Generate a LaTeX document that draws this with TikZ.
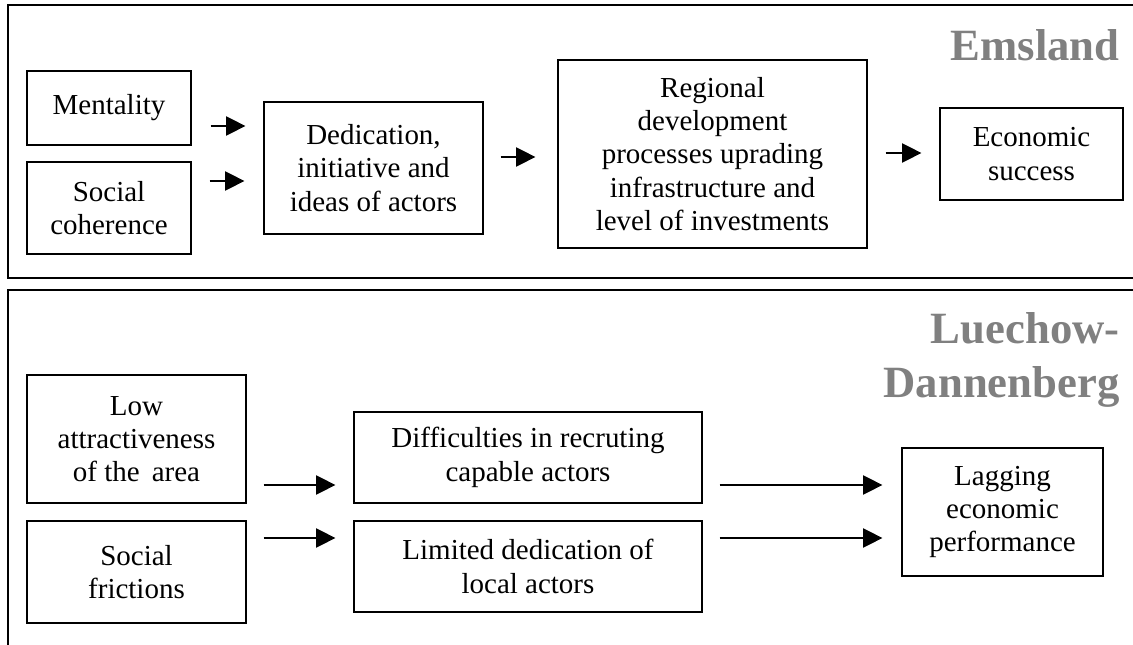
\documentclass[tikz,border=0pt]{standalone}
\usepackage{fontspec}
\setmainfont{Liberation Serif}
\usepackage{xcolor}
\usepackage{tikz}
\usetikzlibrary{arrows.meta, positioning, calc}
\definecolor{titlegray}{HTML}{808080}
\newdimen\unitpx
\unitpx=0.414pt

\tikzset{
  box/.style={draw, line width=0.5pt, inner sep=0pt, align=center,
    font=\fontsize{12}{13.8}\selectfont},
  arr/.style={-{Triangle[length=8pt, width=8pt]}, line width=0.45pt},
  region/.style={font=\fontsize{18.5}{22.4}\selectfont\bfseries, text=titlegray,
    inner sep=0pt, align=right, anchor=base east},
  frame/.style={line width=0.5pt}
}

\begin{document}
\begin{tikzpicture}[x=\unitpx, y=-\unitpx]
  \useasboundingbox (0,0) rectangle (1133,645);
  \clip (0,0) rectangle (1133,645);

  % Emsland
  \draw[frame] (1140,5) -| (8,278) -- (1140,278);
  \node[region] (emsland) at (1120,61) {Emsland};

  \node[box, minimum width=164\unitpx, minimum height=74\unitpx] (ment) at (109,108) {Mentality};
  \node[box, minimum width=164\unitpx, minimum height=92\unitpx] (soc) at (109,208) {Social\\coherence};
  \node[box, minimum width=219\unitpx, minimum height=132\unitpx] (ded) at (373.5,168) {Dedication,\\initiative and\\ideas of actors};
  \node[box, minimum width=309\unitpx, minimum height=188\unitpx] (reg) at (712.5,154) {Regional\\development\\processes uprading\\infrastructure and\\level of investments};
  \node[box, minimum width=183\unitpx, minimum height=92\unitpx] (eco) at (1031.5,154) {Economic\\success};

  \draw[arr] ($(ment.east)+(19,18)$) -- ($(ment.east -| ded.west)+(-18,18)$);
  \draw[arr] ($(soc.east)+(18,-27)$) -- ($(soc.east -| ded.west)+(-19,-27)$);
  \draw[arr] ($(ded.east)+(17,-11)$) -- ($(ded.east -| reg.west)+(-22,-11)$);
  \draw[arr] ($(reg.east)+(18,-1)$) -- ($(reg.east -| eco.west)+(-18,-1)$);

  % Luechow-Dannenberg
  \draw[frame] (1140,290) -| (8,650);
  \node[region] (luechow) at (1120,398) {Luechow-\\Dannenberg};

  \node[box, minimum width=219\unitpx, minimum height=128\unitpx] (low) at (136.5,439) {Low\\attractiveness\\of the\, area};
  \node[box, minimum width=219\unitpx, minimum height=102\unitpx] (fric) at (136.5,572) {Social\\frictions};
  \node[box, minimum width=348\unitpx, minimum height=91\unitpx] (diff) at (528,457.5) {Difficulties in recruting\\capable actors};
  \node[box, minimum width=348\unitpx, minimum height=91\unitpx] (lim) at (528,566.5) {Limited dedication of\\local actors};
  \node[box, minimum width=201\unitpx, minimum height=128\unitpx] (lag) at (1002.5,512) {Lagging\\economic\\performance};

  \draw[arr] ($(low.east)+(17,46)$) -- ($(low.east -| diff.west)+(-18,46)$);
  \draw[arr] ($(fric.east)+(17,-34)$) -- ($(fric.east -| lim.west)+(-18,-34)$);
  \draw[arr] ($(diff.east)+(17,27.5)$) -- ($(diff.east -| lag.west)+(-19,27.5)$);
  \draw[arr] ($(lim.east)+(17,-28.5)$) -- ($(lim.east -| lag.west)+(-19,-28.5)$);
\end{tikzpicture}
\end{document}
